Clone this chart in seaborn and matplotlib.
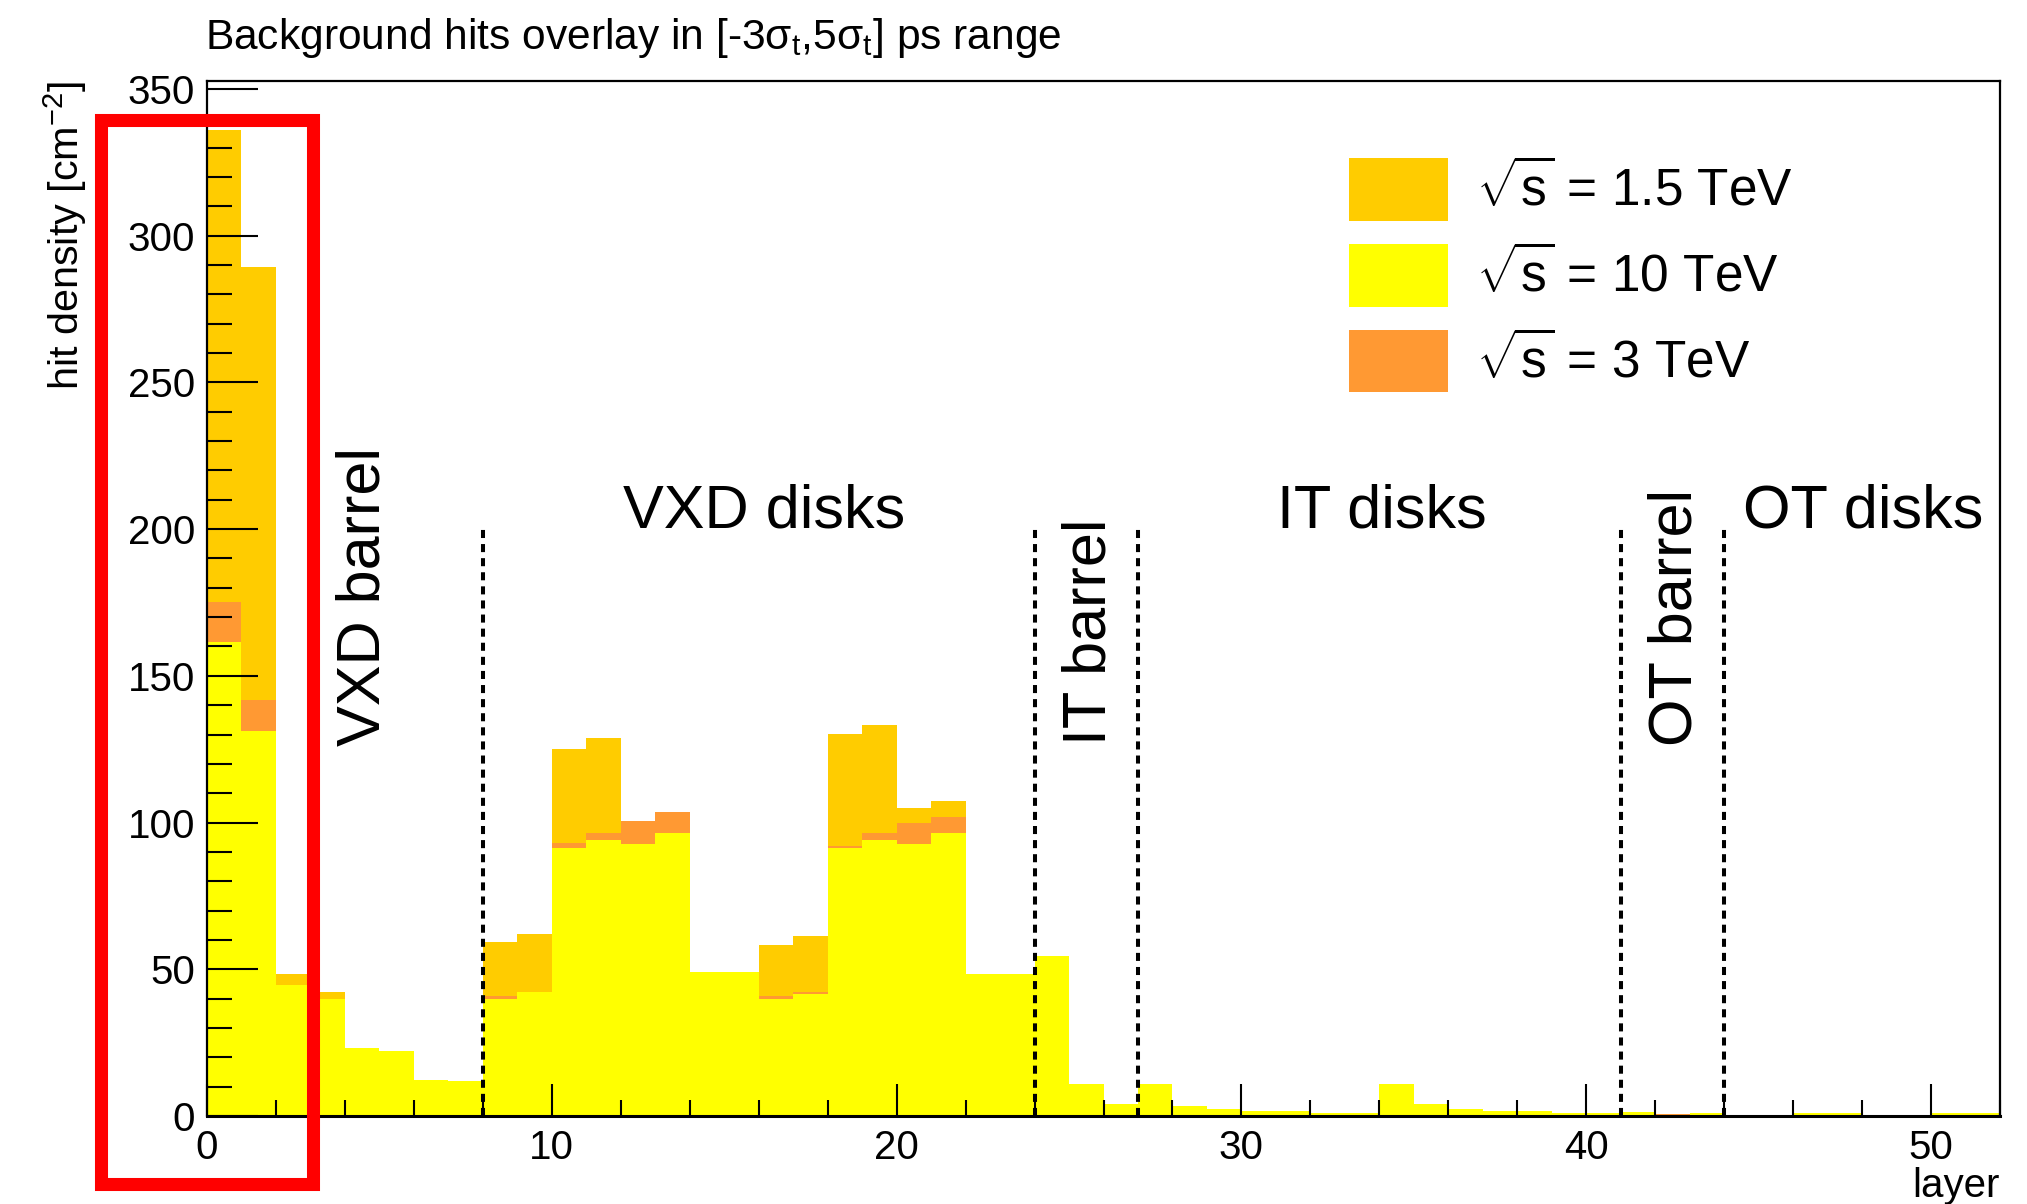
import numpy as np
import pandas as pd
import matplotlib
matplotlib.use("Agg")
import matplotlib.pyplot as plt
import seaborn as sns
from matplotlib.patches import Patch, Rectangle
from matplotlib.ticker import MultipleLocator

# ---------------- data ----------------
layers = list(range(52))
bin_edges = list(range(53))

# sqrt(s) = 1.5 TeV
hits_1p5TeV = [336.0, 289.3, 48.4, 42.2, 22.0, 21.0, 11.5, 11.0, 59.2, 62.1,
               124.9, 128.7, 97.0, 100.0, 47.5, 47.5, 58.2, 61.4, 130.2, 133.3,
               105.0, 107.3, 47.0, 47.0, 52.0, 10.0, 3.5, 10.0, 3.0, 2.0,
               1.5, 1.5, 0.7, 0.7, 10.0, 3.5, 2.0, 1.5, 1.5, 0.7,
               0.7, 1.5, 0.7, 0.6, 0.0, 0.0, 0.6, 0.6, 0.0, 0.0,
               0.6, 0.6]
# sqrt(s) = 3 TeV
hits_3TeV = [175.2, 141.7, 43.0, 38.5, 22.0, 21.0, 11.5, 11.0, 40.9, 41.0,
             92.9, 96.5, 100.4, 103.5, 47.5, 47.5, 40.9, 42.4, 92.0, 96.5,
             99.7, 101.9, 47.0, 47.0, 52.0, 10.0, 3.5, 10.0, 3.0, 2.0,
             1.5, 1.5, 0.7, 0.7, 10.0, 3.5, 2.0, 1.5, 1.5, 0.7,
             0.7, 1.5, 0.7, 0.7, 0.0, 0.0, 0.7, 0.7, 0.0, 0.0,
             0.7, 0.7]
# sqrt(s) = 10 TeV
hits_10TeV = [161.5, 131.1, 44.6, 39.9, 23.2, 22.3, 12.4, 11.8, 40.0, 42.3,
              91.2, 94.2, 92.8, 96.5, 49.2, 49.2, 40.0, 41.6, 91.2, 94.2,
              92.8, 96.5, 48.4, 48.4, 54.5, 10.8, 4.1, 10.9, 3.3, 2.5,
              1.7, 1.7, 0.9, 0.9, 10.9, 4.0, 2.5, 1.7, 1.7, 0.9,
              0.9, 1.5, 0.4, 0.9, 0.0, 0.0, 0.9, 0.9, 0.0, 0.0,
              0.9, 0.9]

series_labels = [r"$\sqrt{\mathrm{s}}$ = 1.5 TeV", r"$\sqrt{\mathrm{s}}$ = 10 TeV", r"$\sqrt{\mathrm{s}}$ = 3 TeV"]
series_colors = {"1.5": "#ffcc00", "10": "#ffff00", "3": "#ff9933"}

region_boundaries = [8, 24, 27, 41, 44]
boundary_height = 200

title_text = r"Background hits overlay in [-3σ$_\mathrm{t}$,5σ$_\mathrm{t}$] ps range"

# ---------------- style ----------------
sns.set_theme(style="ticks")
plt.rcParams["font.family"] = ["Liberation Sans", "DejaVu Sans"]
plt.rcParams["mathtext.fontset"] = "custom"
plt.rcParams["mathtext.rm"] = "Liberation Sans"
plt.rcParams["mathtext.it"] = "Liberation Sans:italic"
plt.rcParams["mathtext.bf"] = "Liberation Sans:bold"
plt.rcParams["axes.edgecolor"] = "black"
plt.rcParams["xtick.color"] = "black"
plt.rcParams["ytick.color"] = "black"
plt.rcParams["text.color"] = "black"
plt.rcParams["axes.labelcolor"] = "black"

W, H = 2027, 1204
fig = plt.figure(figsize=(W / 100, H / 100), dpi=100)
ax = fig.add_axes([207 / W, 1 - 1116 / H, (2000 - 207) / W, (1116 - 80.7) / H])

# draw order: 1.5 TeV, then 3 TeV, then 10 TeV on top
for vals, col in [(hits_1p5TeV, series_colors["1.5"]),
                  (hits_3TeV, series_colors["3"]),
                  (hits_10TeV, series_colors["10"])]:
    sns.histplot(x=layers, weights=vals, bins=bin_edges, element="step",
                 fill=True, color=col, alpha=1, linewidth=0, ax=ax)

ax.vlines(region_boundaries, 0, boundary_height, colors="black",
          linestyles=(0, (2.0, 1.5)), linewidth=2.9, zorder=3)

ax.set_xlim(0, 52)
ax.set_ylim(0, 352.8)
ax.set_axisbelow(False)

ax.xaxis.set_major_locator(MultipleLocator(10))
ax.xaxis.set_minor_locator(MultipleLocator(2))
ax.yaxis.set_major_locator(MultipleLocator(50))
ax.yaxis.set_minor_locator(MultipleLocator(10))

ax.tick_params(axis="both", which="both", direction="in", top=False, right=False,
               bottom=True, left=True, width=1.5, colors="black", labelsize=29)
ax.tick_params(axis="y", which="major", length=37, pad=8.6)
ax.tick_params(axis="y", which="minor", length=18)
ax.tick_params(axis="x", which="major", length=23, pad=9.4)
ax.tick_params(axis="x", which="minor", length=11.3)

for sp in ax.spines.values():
    sp.set_linewidth(1.6)
    sp.set_color("black")
ax.spines["bottom"].set_linewidth(2.2)

ax.set_xlabel("layer", loc="right", fontsize=29, labelpad=0)
ax.set_ylabel(r"hit density [cm$^{-2}$]", loc="top", fontsize=29.8)
ax.yaxis.set_label_coords(-0.066, 1.0)

# region annotations
ann = dict(fontsize=44, color="black")
ax.text(4.55, 126.2, "VXD barrel", rotation=90, ha="center", va="bottom", **ann)
ax.text(12.07, 200.5, "VXD disks", ha="left", va="baseline", **ann)
ax.text(25.6, 126.5, "IT barrel", rotation=90, ha="center", va="bottom", **ann)
ax.text(31.02, 200.5, "IT disks", ha="left", va="baseline", **ann)
ax.text(42.6, 126.2, "OT barrel", rotation=90, ha="center", va="bottom", **ann)
ax.text(44.56, 200.5, "OT disks", ha="left", va="baseline", **ann)

# legend
handles = [Patch(facecolor=series_colors["1.5"], edgecolor="none"),
           Patch(facecolor=series_colors["10"], edgecolor="none"),
           Patch(facecolor=series_colors["3"], edgecolor="none")]
ax.legend(handles, series_labels, loc="upper left",
          bbox_to_anchor=(1349 / W, 1 - 158 / H), bbox_transform=fig.transFigure,
          frameon=False, fontsize=37, handlelength=1.93, handleheight=1.50,
          handletextpad=0.55, labelspacing=0.45, borderpad=0, borderaxespad=0)

fig.text(205 / W, 1 - 49.3 / H, title_text, ha="left", va="baseline", fontsize=30.6)

# red highlight box
fig.add_artist(Rectangle((101 / W, 1 - 1184 / H), (313 - 101) / W, (1184 - 120) / H,
                         transform=fig.transFigure, fill=False, edgecolor="#ff0000",
                         linewidth=9.4, zorder=20, clip_on=False))

fig.savefig("out.png", dpi=100)
